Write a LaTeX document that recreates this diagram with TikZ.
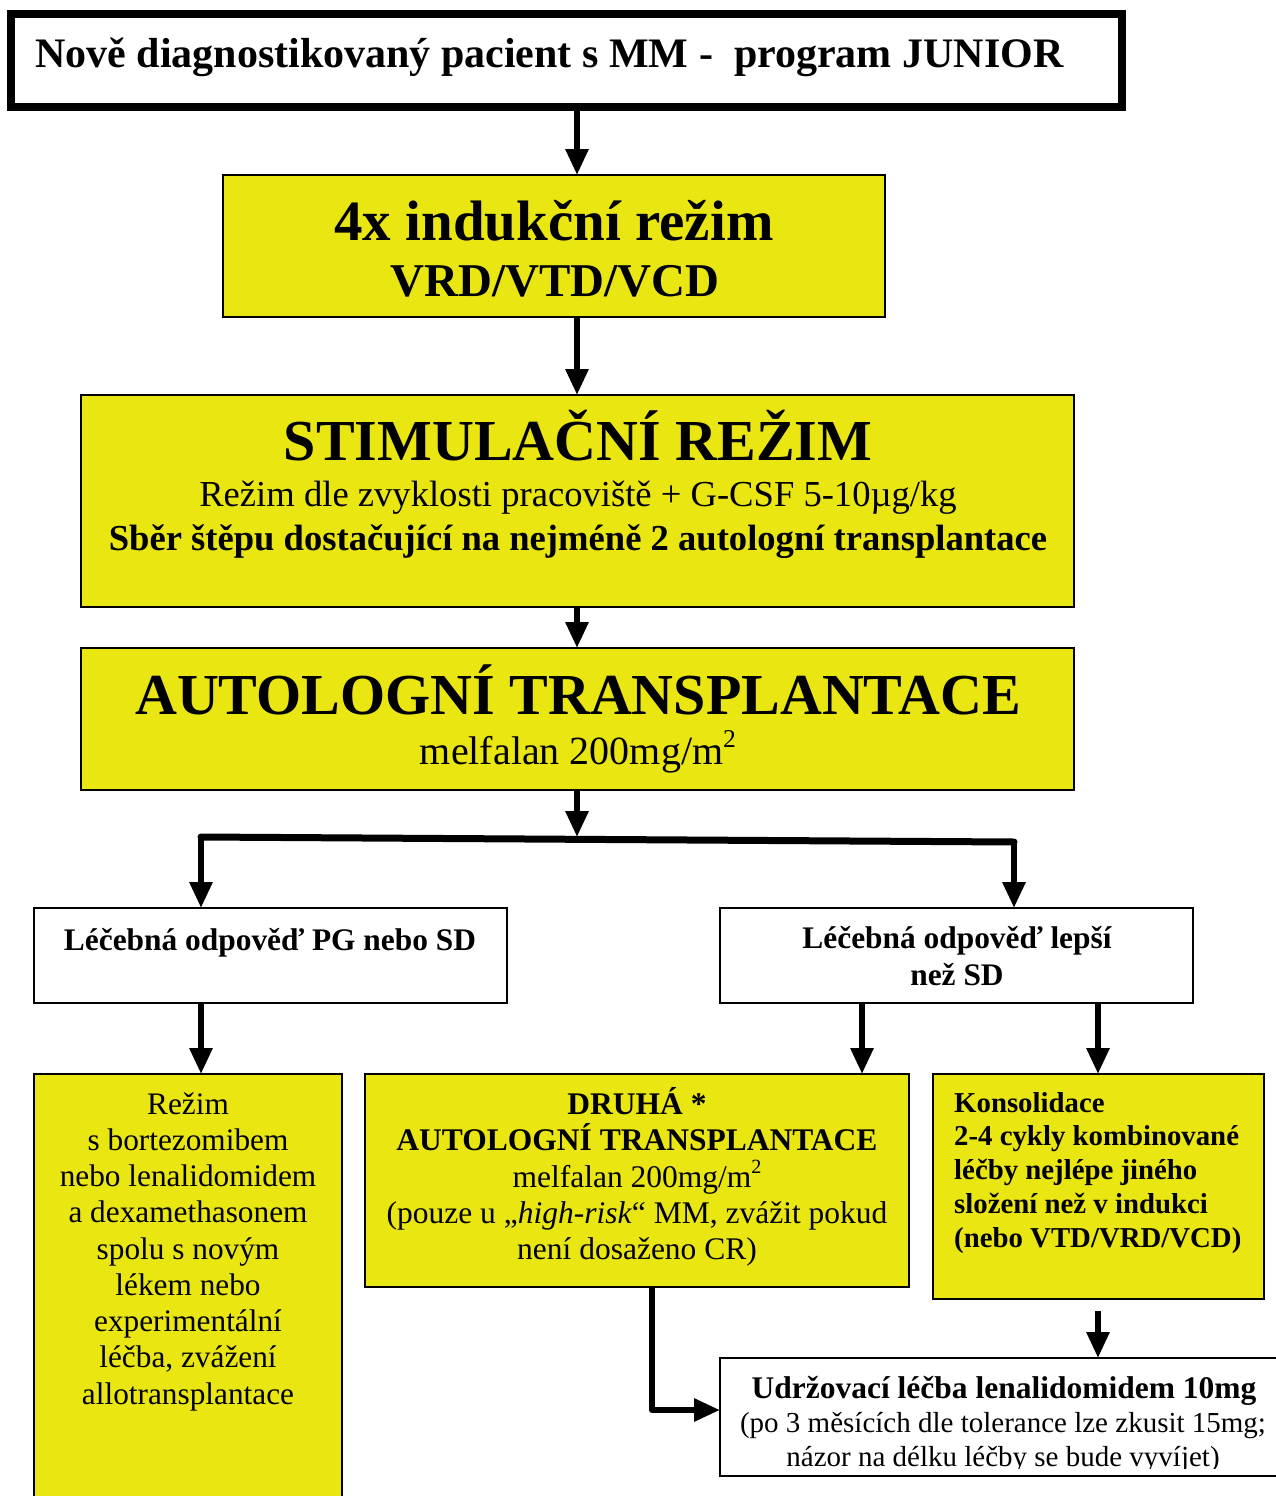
\documentclass[tikz,border=0pt]{standalone}
\usepackage{fontspec}
\setmainfont{Liberation Serif}
\usetikzlibrary{arrows.meta}
\definecolor{yel}{RGB}{234,230,18}
\newcommand{\fs}[1]{\fontsize{#1}{#1}\selectfont}
\newcommand{\suptwo}{\raisebox{0.42em}[0pt][0pt]{\fontsize{0.64em}{0.64em}\selectfont 2}}
\begin{document}
\begin{tikzpicture}[x=1pt,y=-1pt,
  box/.style={draw=black, line width=2pt, fill=yel, inner sep=0pt, outer sep=0pt, anchor=north west},
  wbox/.style={box, fill=white},
  arr/.style={line width=6pt, -{Triangle[length=26pt,width=22pt]}},
  txt/.style={inner sep=0pt, anchor=base},
  ltxt/.style={inner sep=0pt, anchor=base west},
]
\useasboundingbox (0,0) rectangle (1276,1496);
\fill[white] (0,0) rectangle (1276,1496);

% boxes
\node[wbox, line width=8pt, minimum width=1111pt, minimum height=93pt] (top) at (11,14) {};
\node[box, minimum width=662pt, minimum height=142pt] (ind) at (223,175) {};
\node[box, minimum width=993pt, minimum height=212pt] (stim) at (81,395) {};
\node[box, minimum width=993pt, minimum height=142pt] (auto) at (81,648) {};
\node[wbox, minimum width=473pt, minimum height=95pt] (pg) at (34,908) {};
\node[wbox, minimum width=473pt, minimum height=95pt] (lep) at (720,908) {};
\node[box, minimum width=308pt, minimum height=440pt] (rez) at (34,1074) {};
\node[box, minimum width=544pt, minimum height=213pt] (dru) at (365,1074) {};
\node[box, minimum width=331pt, minimum height=225pt] (kon) at (933,1074) {};
\node[wbox, minimum width=580pt, minimum height=118pt] (udr) at (720,1358) {};

% texts
\node[ltxt, font=\bfseries\fs{42}] (top-t) at (35,67) {Nově diagnostikovaný pacient s MM -\ \ program JUNIOR};

\node[txt, font=\bfseries\fs{57}] (ind-t1) at (554,240) {4x indukční režim};
\node[txt, font=\bfseries\fs{47}] (ind-t2) at (555,296) {VRD/VTD/VCD};

\node[txt, font=\bfseries\fs{58}] (stim-t1) at (578,460) {STIMULAČNÍ REŽIM};
\node[txt, font=\fs{36.6}] (stim-t2) at (578,506) {Režim dle zvyklosti pracoviště + G-CSF 5-10µg/kg};
\node[txt, font=\bfseries\fs{36.6}] (stim-t3) at (578,550) {Sběr štěpu dostačující na nejméně 2 autologní transplantace};

\node[txt, font=\bfseries\fs{58}] (auto-t1) at (578,714) {AUTOLOGNÍ TRANSPLANTACE};
\node[txt, font=\fs{40}] (auto-t2) at (578,764) {melfalan 200mg/m\suptwo};

\node[txt, font=\bfseries\fs{31.4}] (pg-t) at (270,950) {Léčebná odpověď PG nebo SD};
\node[txt, font=\bfseries\fs{31.4}] (lep-t1) at (957,948) {Léčebná odpověď lepší};
\node[txt, font=\bfseries\fs{31.4}] (lep-t2) at (957,985) {než SD};

\foreach \t [count=\i] in {Režim,s bortezomibem,nebo lenalidomidem,a dexamethasonem,spolu s novým,lékem nebo,experimentální,{léčba, zvážení},allotransplantace}
  \node[txt, font=\fs{31.3}] (rez-\i) at (188,{1114+(\i-1)*36.25}) {\t};

\node[txt, font=\bfseries\fs{31.5}] (dru-1) at (637,1114) {DRUHÁ *};
\node[txt, font=\bfseries\fs{31.5}] (dru-2) at (637,1150) {AUTOLOGNÍ TRANSPLANTACE};
\node[txt, font=\fs{31.5}] (dru-3) at (637,1187) {melfalan 200mg/m\suptwo};
\node[txt, font=\fs{31.5}] (dru-4) at (637,1223) {(pouze u „\textit{high-risk}“ MM, zvážit pokud};
\node[txt, font=\fs{31.5}] (dru-5) at (637,1259) {není dosaženo CR)};

\foreach \t [count=\i] in {Konsolidace,2-4 cykly kombinované,léčby nejlépe jiného,složení než v indukci,(nebo VTD/VRD/VCD)}
  \node[ltxt, font=\bfseries\fs{28.8}] (kon-\i) at (954,{1112+(\i-1)*33.75}) {\t};

\begin{scope}
\clip (721,1359) rectangle (1276,1468);
\node[txt, font=\bfseries\fs{31.5}] (udr-1) at (1004,1398) {Udržovací léčba lenalidomidem 10mg};
\node[txt, font=\fs{29}] (udr-2) at (1003,1432) {(po 3 měsících dle tolerance lze zkusit 15mg;};
\node[txt, font=\fs{29}] (udr-3) at (1003,1466) {názor na délku léčby se bude vyvíjet)};
\end{scope}

% connectors
\coordinate (col) at (577,0);
\coordinate (brl) at (201,837);
\coordinate (brm) at (577,837);
\coordinate (brr) at (1014,842);
\coordinate (c2) at (862,0);
\coordinate (elb) at (652,1410);
\coordinate (konb) at (1098,1311);

\draw[arr] (top.south -| col) -- (ind.north -| col);
\draw[arr] (ind.south -| col) -- (stim.north -| col);
\draw[arr] (stim.south -| col) -- (auto.north -| col);
\draw[arr] (auto.south -| brm) -- (brm);
\draw[line width=7pt, line cap=round] (brl) -- (brr);
\draw[arr] (brl) -- (brl |- pg.north);
\draw[arr] (brr) -- (brr |- lep.north);
\draw[arr] (pg.south -| brl) -- (rez.north -| brl);
\draw[arr] (lep.south -| c2) -- (dru.north -| c2);
\draw[arr] (lep.south -| konb) -- (kon.north -| konb);
\draw[arr] (konb) -- (udr.north -| konb);
\draw[line width=6pt, line join=round, -{Triangle[length=26pt,width=22pt]}] (dru.south -| elb) -- (elb) -- (udr.west |- elb);
\end{tikzpicture}
\end{document}
